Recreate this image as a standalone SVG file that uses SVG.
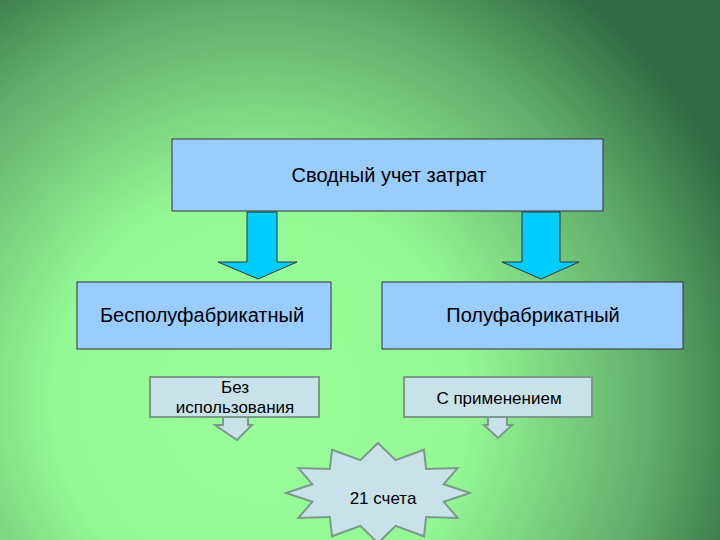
<svg xmlns="http://www.w3.org/2000/svg" width="720" height="540" viewBox="0 0 720 540">
<defs>
<radialGradient id="bg" cx="260" cy="400" r="520" gradientUnits="userSpaceOnUse">
<stop offset="0" stop-color="#99ff99"/>
<stop offset="0.4" stop-color="#94f894"/>
<stop offset="0.75" stop-color="#62ae6c"/>
<stop offset="1" stop-color="#2f6a42"/>
</radialGradient>
<style>
.t{font-family:"Liberation Sans",Arial,sans-serif;font-size:20px;fill:#000;text-anchor:middle}
.m{font-size:17px}
.big{fill:#99ccff;stroke:#333;stroke-width:1}
.sm{fill:#c9e2ea;stroke:#7a9a8a;stroke-width:2}
.ar{fill:#00ccff;stroke:#333;stroke-width:1}
.sar{fill:#c9e2ea;stroke:#7a9a8a;stroke-width:2}
</style>
</defs>
<rect width="720" height="540" fill="url(#bg)"/>
<g id="connectors">
<polygon class="ar" points="247,212 277,212 277,262 297,262 258,279 218,262 247,262"/>
<polygon class="ar" points="522,212 560,212 560,262 579,262 541,279 502,262 522,262"/>
<polygon class="sar" points="223,417 248,417 248,425 252,425 237,440 215,425 223,425"/>
<polygon class="sar" points="488,417 507,417 507,425 512,425 498,438 484,425 488,425"/>
</g>
<g id="top"><rect class="big" x="172" y="139" width="431" height="72"/><text class="t" x="389" y="182">Сводный учет затрат</text></g>
<g id="left"><rect class="big" x="77" y="282" width="254" height="67"/><text class="t" x="202" y="322">Бесполуфабрикатный</text></g>
<g id="right"><rect class="big" x="382" y="282" width="301" height="67"/><text class="t" x="533" y="322">Полуфабрикатный</text></g>
<g id="bez"><rect class="sm" x="150" y="377" width="169" height="40"/><text class="t m" x="235" y="393">Без</text><text class="t m" x="235" y="413">использования</text></g>
<g id="s"><rect class="sm" x="404" y="377" width="188" height="40"/><text class="t m" x="499" y="404">С применением</text></g>
<g id="star"><polygon class="sm" points="470,493 443.7,501.8 457.7,518 426.1,517 424,536.3 395.6,525.8 378,543 360.4,525.8 332,536.3 329.9,517 298.3,518 312.3,501.8 286,493 312.3,484.2 298.3,468 329.9,469 332,449.7 360.4,460.2 378,443 395.6,460.2 424,449.7 426.1,469 457.7,468 443.7,484.2"/><text class="t m" x="383" y="504">21 счета</text></g>
</svg>
